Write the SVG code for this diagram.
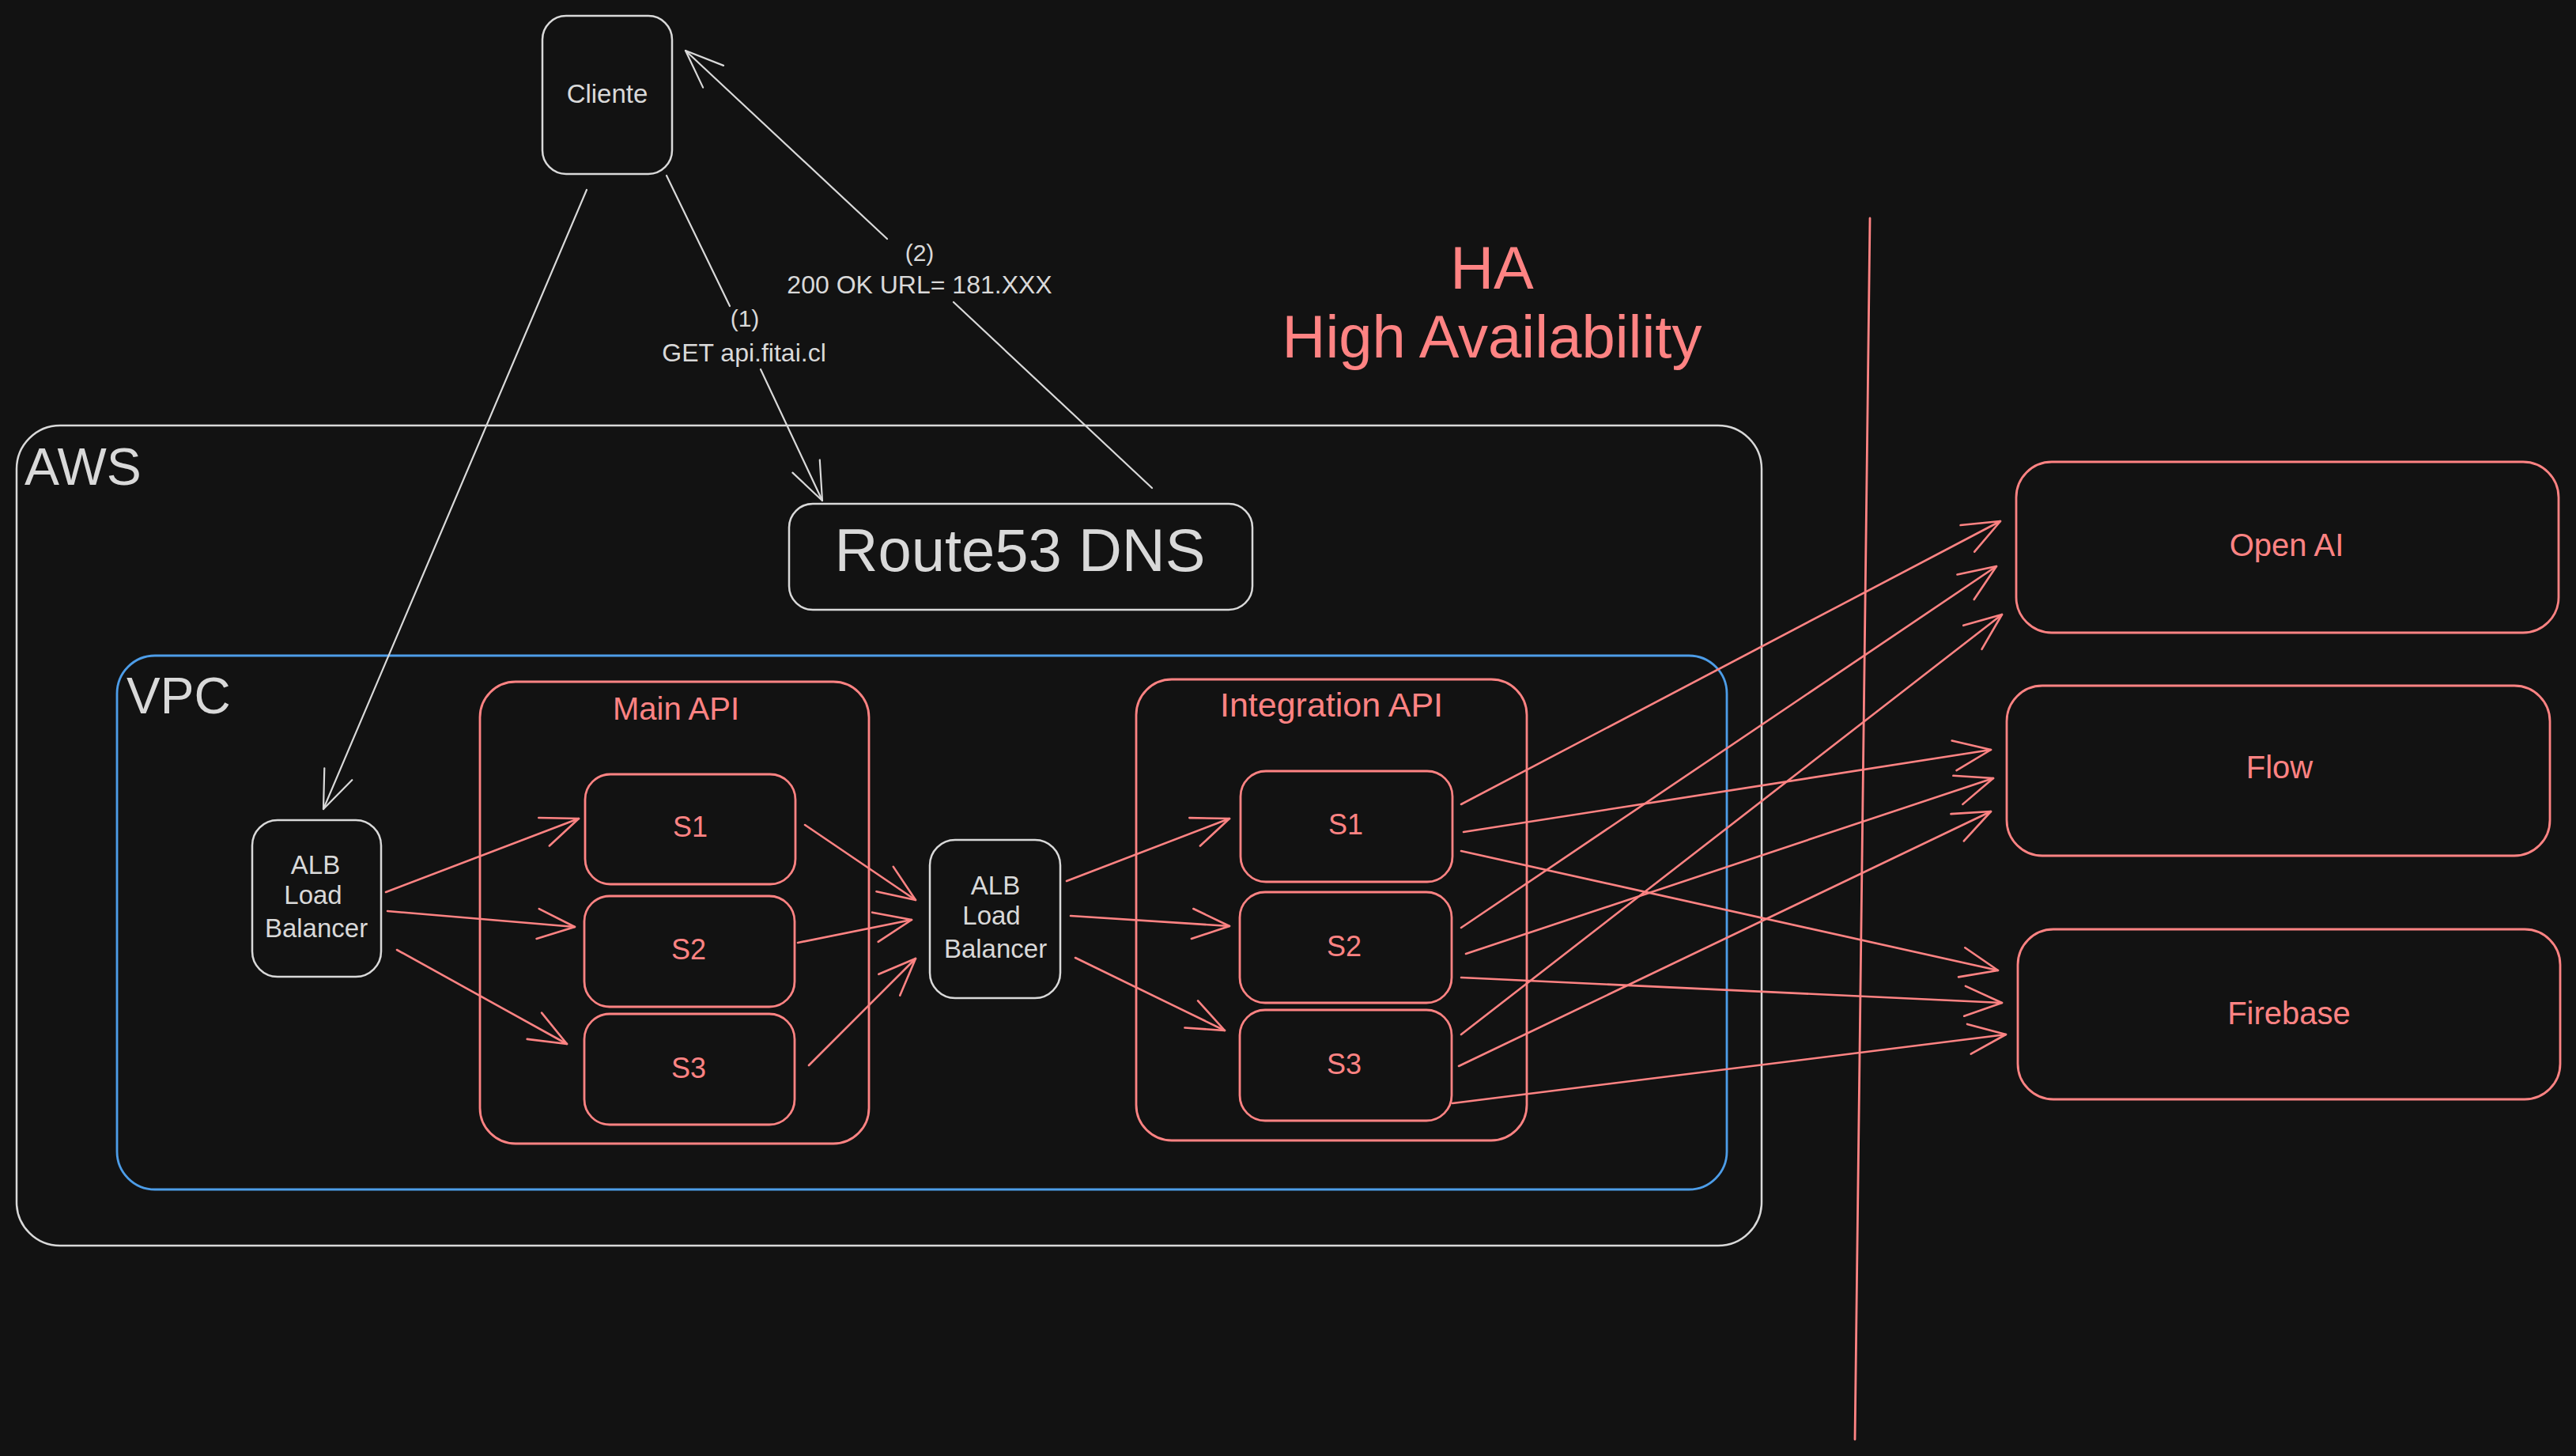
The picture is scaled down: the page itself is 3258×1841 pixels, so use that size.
<svg xmlns="http://www.w3.org/2000/svg" width="3258" height="1841" viewBox="0 0 3258 1841">
<style>
.bg{fill:#121212}
.w{fill:none;stroke:#d9d9d9;stroke-width:2.5;stroke-linecap:round;stroke-linejoin:round}
.r{fill:none;stroke:#ff8383;stroke-width:2.8;stroke-linecap:round;stroke-linejoin:round}
.b{fill:none;stroke:#4d9de8;stroke-width:2.8}
.box{fill:#121212}
.tw{fill:#d9d9d9;font-family:"Liberation Sans",Arial,sans-serif}
.tr{fill:#ff8383;font-family:"Liberation Sans",Arial,sans-serif}
.c{text-anchor:middle}
.cw{fill:none;stroke:#d9d9d9;stroke-width:2.2;stroke-linecap:round}
.cr{fill:none;stroke:#ff8383;stroke-width:2.6;stroke-linecap:round}
</style>
<defs>
<marker id="aw" viewBox="-60 -30 70 60" refX="0" refY="0" markerWidth="70" markerHeight="60" markerUnits="userSpaceOnUse" orient="auto" overflow="visible">
<path d="M -48 -19 L 0 0 L -48 19" fill="none" stroke="#d9d9d9" stroke-width="2.2" stroke-linecap="round" stroke-linejoin="round"/>
</marker>
<marker id="ar" viewBox="-60 -30 70 60" refX="0" refY="0" markerWidth="70" markerHeight="60" markerUnits="userSpaceOnUse" orient="auto" overflow="visible">
<path d="M -47 -19 L 0 0 L -47 19" fill="none" stroke="#ff8383" stroke-width="2.6" stroke-linecap="round" stroke-linejoin="round"/>
</marker>
</defs>
<rect class="bg" x="0" y="0" width="3258" height="1841"/>

<g id="aws">
<rect class="w" x="21" y="538" width="2207" height="1037" rx="55"/>
<text class="tw" x="31" y="613" font-size="66">AWS</text>
</g>
<g id="vpc">
<rect class="b" x="148" y="829" width="2036" height="675" rx="48"/>
<text class="tw" x="160" y="902" font-size="64">VPC</text>
</g>
<g id="main-api">
<rect class="r" x="607" y="862" width="492" height="584" rx="45"/>
<text class="tr c" x="855" y="910" font-size="40">Main API</text>
</g>
<g id="integration-api">
<rect class="r" x="1437" y="859" width="494" height="583" rx="45"/>
<text class="tr c" x="1684" y="906" font-size="43">Integration API</text>
</g>

<g id="cliente">
<rect class="w" x="686" y="20" width="164" height="200" rx="30"/>
<text class="tw c" x="768" y="130" font-size="33">Cliente</text>
</g>
<g id="route53">
<rect class="w" x="998" y="637" width="586" height="134" rx="30"/>
<text class="tw c" x="1290" y="722" font-size="76">Route53 DNS</text>
</g>
<g id="ha-title">
<text class="tr c" x="1887" y="365" font-size="76">HA</text>
<text class="tr c" x="1887" y="452" font-size="76">High Availability</text>
</g>

<g id="alb1">
<rect class="w" x="319" y="1037" width="163" height="198" rx="32"/>
<text class="tw c" x="399" y="1105" font-size="33">ALB</text>
<text class="tw c" x="396" y="1143" font-size="33">Load</text>
<text class="tw c" x="400" y="1185" font-size="33">Balancer</text>
</g>
<g id="main-s1">
<rect class="r" x="740" y="979" width="266" height="139" rx="32"/>
<text class="tr c" x="873" y="1058" font-size="36">S1</text>
</g>
<g id="main-s2">
<rect class="r" x="739" y="1133" width="266" height="140" rx="32"/>
<text class="tr c" x="871" y="1213" font-size="36">S2</text>
</g>
<g id="main-s3">
<rect class="r" x="739" y="1282" width="266" height="140" rx="32"/>
<text class="tr c" x="871" y="1363" font-size="36">S3</text>
</g>

<g id="alb2">
<rect class="w" x="1176" y="1062" width="165" height="200" rx="32"/>
<text class="tw c" x="1259" y="1131" font-size="33">ALB</text>
<text class="tw c" x="1254" y="1169" font-size="33">Load</text>
<text class="tw c" x="1259" y="1211" font-size="33">Balancer</text>
</g>
<g id="int-s1">
<rect class="r" x="1569" y="975" width="268" height="140" rx="32"/>
<text class="tr c" x="1702" y="1055" font-size="36">S1</text>
</g>
<g id="int-s2">
<rect class="r" x="1568" y="1128" width="268" height="140" rx="32"/>
<text class="tr c" x="1700" y="1209" font-size="36">S2</text>
</g>
<g id="int-s3">
<rect class="r" x="1568" y="1277" width="268" height="140" rx="32"/>
<text class="tr c" x="1700" y="1358" font-size="36">S3</text>
</g>

<g id="openai">
<rect class="r" x="2550" y="584" width="686" height="216" rx="45"/>
<text class="tr c" x="2892" y="703" font-size="40">Open AI</text>
</g>
<g id="flow">
<rect class="r" x="2538" y="867" width="687" height="215" rx="45"/>
<text class="tr c" x="2883" y="984" font-size="40">Flow</text>
</g>
<g id="firebase">
<rect class="r" x="2552" y="1175" width="686" height="215" rx="45"/>
<text class="tr c" x="2895" y="1295" font-size="40">Firebase</text>
</g>

<g id="boundary">
<line class="r" x1="2365" y1="276" x2="2346" y2="1820" stroke-width="3"/>
</g>

<g id="connectors">
<line class="cw" x1="742" y1="240" x2="409" y2="1023" marker-end="url(#aw)"/>
<line class="cw" x1="843" y1="222" x2="923" y2="387"/>
<line class="cw" x1="962" y1="467" x2="1040" y2="633" marker-end="url(#aw)"/>
<line class="cw" x1="1457" y1="617" x2="1206" y2="382"/>
<line class="cw" x1="1122" y1="302" x2="867" y2="64" marker-end="url(#aw)"/>

<line class="cr" x1="488" y1="1128" x2="732" y2="1035" marker-end="url(#ar)"/>
<line class="cr" x1="490" y1="1152" x2="727" y2="1172" marker-end="url(#ar)"/>
<line class="cr" x1="502" y1="1201" x2="717" y2="1320" marker-end="url(#ar)"/>
<line class="cr" x1="1018" y1="1043" x2="1158" y2="1138" marker-end="url(#ar)"/>
<line class="cr" x1="1009" y1="1192" x2="1153" y2="1163" marker-end="url(#ar)"/>
<line class="cr" x1="1023" y1="1347" x2="1158" y2="1212" marker-end="url(#ar)"/>

<line class="cr" x1="1349" y1="1114" x2="1555" y2="1035" marker-end="url(#ar)"/>
<line class="cr" x1="1354" y1="1158" x2="1555" y2="1171" marker-end="url(#ar)"/>
<line class="cr" x1="1360" y1="1211" x2="1549" y2="1303" marker-end="url(#ar)"/>

<line class="cr" x1="1848" y1="1017" x2="2530" y2="659" marker-end="url(#ar)"/>
<line class="cr" x1="1851" y1="1052" x2="2518" y2="948" marker-end="url(#ar)"/>
<line class="cr" x1="1848" y1="1076" x2="2527" y2="1227" marker-end="url(#ar)"/>
<line class="cr" x1="1848" y1="1173" x2="2525" y2="716" marker-end="url(#ar)"/>
<line class="cr" x1="1854" y1="1206" x2="2521" y2="984" marker-end="url(#ar)"/>
<line class="cr" x1="1848" y1="1236" x2="2532" y2="1268" marker-end="url(#ar)"/>
<line class="cr" x1="1848" y1="1308" x2="2532" y2="777" marker-end="url(#ar)"/>
<line class="cr" x1="1845" y1="1348" x2="2518" y2="1026" marker-end="url(#ar)"/>
<line class="cr" x1="1837" y1="1395" x2="2537" y2="1308" marker-end="url(#ar)"/>
</g>

<g id="labels">
<text class="tw c" x="942" y="413" font-size="30">(1)</text>
<text class="tw c" x="941" y="457" font-size="32">GET api.fitai.cl</text>
<text class="tw c" x="1163" y="330" font-size="30">(2)</text>
<text class="tw c" x="1163" y="371" font-size="32">200 OK URL= 181.XXX</text>
</g>
</svg>
